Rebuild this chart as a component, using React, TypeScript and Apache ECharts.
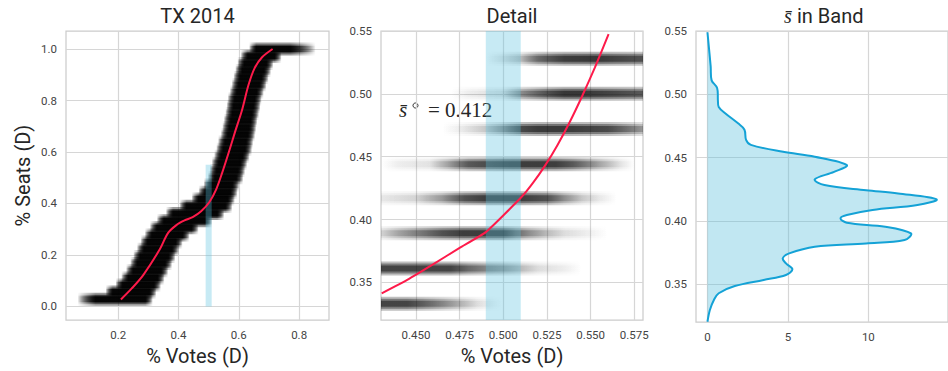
import React, { useEffect, useRef } from "react";
import * as echarts from "echarts";

// ---------- style constants ----------
const SANS = "Roboto, 'Noto Sans', 'DejaVu Sans', sans-serif";
const SERIF = "'Liberation Serif', 'DejaVu Serif', serif";
const INK = "#262626";
const TICK = "#444444";
const GRIDLINE = "#d6d6d6";
const SPINE = "#cccccc";
const RED = "#fe1a4a";
const BAND_FILL = "rgba(91,192,222,0.34)";
const KDE_LINE = "#14a2d6";
const KDE_FILL = "rgba(91,192,222,0.38)";

// ---------- text ----------
const title1 = "TX 2014";
const title2 = "Detail";
const title3Math = "s\u0304";
const title3Text = "in Band";
const xName = "% Votes (D)";
const yName = "% Seats (D)";
const annotationValue = "0.412";

// ---------- panel 1: overview (seat rows k/36 with vote-share extents) ----------
const overviewSeat = [0.028, 0.056, 0.083, 0.111, 0.139, 0.167, 0.194, 0.222, 0.25, 0.278, 0.306, 0.333,
  0.361, 0.389, 0.417, 0.444, 0.472, 0.5, 0.528, 0.556, 0.583, 0.611, 0.639, 0.667, 0.694, 0.722, 0.75,
  0.778, 0.806, 0.833, 0.861, 0.889, 0.917, 0.944, 0.972, 1.0];
const overviewFaintLo = [0.065, 0.158, 0.191, 0.21, 0.226, 0.24, 0.25, 0.262, 0.274, 0.288, 0.305, 0.328,
  0.358, 0.403, 0.443, 0.466, 0.483, 0.497, 0.503, 0.51, 0.518, 0.525, 0.531, 0.54, 0.545, 0.55, 0.555,
  0.559, 0.563, 0.57, 0.576, 0.582, 0.588, 0.595, 0.606, 0.634];
const overviewLo = [0.125, 0.182, 0.215, 0.234, 0.25, 0.264, 0.274, 0.286, 0.298, 0.312, 0.329, 0.352,
  0.382, 0.427, 0.467, 0.49, 0.507, 0.521, 0.527, 0.534, 0.542, 0.549, 0.555, 0.564, 0.569, 0.574, 0.579,
  0.583, 0.587, 0.594, 0.6, 0.606, 0.612, 0.619, 0.63, 0.658];
const overviewHi = [0.29, 0.303, 0.318, 0.33, 0.342, 0.355, 0.366, 0.378, 0.39, 0.413, 0.443, 0.488,
  0.528, 0.555, 0.563, 0.572, 0.578, 0.591, 0.597, 0.604, 0.612, 0.62, 0.624, 0.63, 0.634, 0.638, 0.643,
  0.648, 0.652, 0.659, 0.668, 0.675, 0.683, 0.691, 0.718, 0.77];
const overviewFaintHi = [0.315, 0.327, 0.342, 0.354, 0.366, 0.379, 0.39, 0.402, 0.414, 0.437, 0.467, 0.512,
  0.552, 0.579, 0.587, 0.596, 0.602, 0.615, 0.621, 0.628, 0.636, 0.644, 0.648, 0.654, 0.658, 0.662, 0.667,
  0.672, 0.676, 0.683, 0.692, 0.699, 0.707, 0.715, 0.742, 0.855];

const overviewCurveVotes = [0.209, 0.245, 0.283, 0.338, 0.365, 0.393, 0.42, 0.447, 0.475, 0.502, 0.525, 0.545, 0.567, 0.588, 0.61, 0.632, 0.652, 0.677, 0.712];
const overviewCurveSeats = [0.027, 0.07, 0.122, 0.222, 0.285, 0.316, 0.334, 0.347, 0.37, 0.405, 0.455, 0.52, 0.6, 0.68, 0.76, 0.86, 0.925, 0.968, 1.0];

// ---------- panel 2: detail rows ----------
const detailSeat = [0.333, 0.361, 0.389, 0.417, 0.444, 0.472, 0.5, 0.528];
const detailProfiles: number[][][] = [
  [[0.4, 0.9], [0.445, 0.9], [0.455, 0.7], [0.465, 0.5], [0.475, 0.3], [0.485, 0.12], [0.495, 0.03], [0.5, 0]],
  [[0.4, 0.9], [0.47, 0.9], [0.48, 0.65], [0.49, 0.5], [0.5, 0.4], [0.51, 0.25], [0.52, 0.12], [0.535, 0.06], [0.545, 0]],
  [[0.4, 0.1], [0.43, 0.15], [0.44, 0.35], [0.455, 0.6], [0.465, 0.8], [0.477, 0.95], [0.5, 0.95], [0.507, 0.65], [0.515, 0.45], [0.525, 0.25], [0.535, 0.12], [0.55, 0.05], [0.56, 0]],
  [[0.42, 0], [0.43, 0.08], [0.45, 0.15], [0.465, 0.4], [0.478, 0.8], [0.49, 0.95], [0.51, 0.95], [0.525, 0.8], [0.535, 0.45], [0.545, 0.2], [0.555, 0.08], [0.565, 0]],
  [[0.43, 0], [0.44, 0.06], [0.458, 0.1], [0.468, 0.35], [0.48, 0.75], [0.505, 0.95], [0.53, 0.95], [0.54, 0.75], [0.555, 0.35], [0.567, 0.1], [0.575, 0]],
  [[0.465, 0], [0.475, 0.06], [0.49, 0.2], [0.5, 0.45], [0.51, 0.85], [0.52, 0.97], [0.535, 0.97], [0.56, 0.85], [0.58, 0.4]],
  [[0.47, 0], [0.48, 0.06], [0.5, 0.12], [0.51, 0.45], [0.525, 0.8], [0.535, 1.0], [0.545, 1.0], [0.56, 0.9], [0.58, 0.75]],
  [[0.49, 0], [0.5, 0.1], [0.51, 0.25], [0.52, 0.65], [0.535, 0.95], [0.553, 1.0], [0.565, 0.9], [0.58, 0.8]],
];
const detailCurveVotes = [0.4304, 0.445, 0.46, 0.475, 0.49, 0.5103, 0.517, 0.524, 0.531, 0.538, 0.545, 0.5525, 0.5603];
const detailCurveSeats = [0.3413, 0.352, 0.3645, 0.3775, 0.39, 0.4177, 0.4291, 0.4431, 0.4592, 0.4774, 0.4977, 0.521, 0.5475];

// ---------- band ----------
const bandVotes = [0.49, 0.51];
const bandSeats = [0, 0.55];

// ---------- panel 3: density of s-bar in band ----------
const kdeDensity = [0, 0.2, 0.26, 0.6, 0.65, 0.7, 1.1, 1.9, 2.3, 2.4, 2.7, 4.7, 6.67, 8.66, 7.87, 6.67, 7.27, 9.86, 11.85,
  14.24, 13.05, 10.26, 8.66, 8.27, 8.66, 11.05, 12.65, 12.25, 9.86, 6.67, 5.08, 4.68, 4.88, 5.28, 4.88, 3.49, 1.7, 0.7, 0.4, 0.15, 0];
const kdeSeat = [0.549, 0.522, 0.511, 0.505, 0.495, 0.49, 0.485, 0.477, 0.472, 0.464, 0.46, 0.4545, 0.4506, 0.444, 0.4387,
  0.4327, 0.4282, 0.4242, 0.4216, 0.4169, 0.4124, 0.4085, 0.4045, 0.4019, 0.3984, 0.3953, 0.39, 0.3848, 0.3821, 0.3795,
  0.3742, 0.3703, 0.3663, 0.3616, 0.3571, 0.3532, 0.3484, 0.3427, 0.3374, 0.3295, 0.3202];

// ---------- ticks / ranges ----------
const overviewXTicks = [0.2, 0.4, 0.6, 0.8];
const overviewYTicks = [0, 0.2, 0.4, 0.6, 0.8, 1.0];
const detailXTicks = [0.45, 0.475, 0.5, 0.525, 0.55, 0.575];
const detailYTicks = [0.35, 0.4, 0.45, 0.5, 0.55];
const kdeXTicks = [0, 5, 10];
const overviewXRange = [0.027, 0.899];
const overviewYRange = [-0.053, 1.07];
const detailXRange = [0.43, 0.58];
const seatRange = [0.32, 0.55];
const kdeXRange = [-0.712, 14.95];

function gradient(stops: number[][], scale: number) {
  const v0 = stops[0][0];
  const v1 = stops[stops.length - 1][0];
  return new echarts.graphic.LinearGradient(
    0, 0, 1, 0,
    stops.map(([v, d]) => ({ offset: (v - v0) / (v1 - v0), color: `rgba(0,0,0,${(d * scale).toFixed(3)})` }))
  );
}

function axis(ticks: number[], range: number[], digits: number, extra: any = {}) {
  return {
    type: "value",
    min: range[0],
    max: range[1],
    axisLine: { show: false },
    axisTick: { show: false, customValues: ticks },
    axisLabel: {
      customValues: ticks,
      formatter: (v: number) => v.toFixed(digits),
      color: TICK,
      fontFamily: SANS,
      fontSize: 11.5,
      margin: 9,
    },
    splitLine: { show: true, lineStyle: { color: GRIDLINE, width: 1.2 } },
    ...extra,
  };
}

const nameStyle = { fontFamily: SANS, fontSize: 20, color: INK };

export default function App() {
  const ref = useRef<HTMLDivElement>(null);
  useEffect(() => {
    if (!ref.current) return;
    const chart = echarts.init(ref.current, undefined, { renderer: "svg" });

    const bandRender = (params: any, api: any) => {
      const a = api.coord([bandVotes[0], bandSeats[1]]);
      const b = api.coord([bandVotes[1], bandSeats[0]]);
      return {
        type: "rect",
        shape: { x: a[0], y: a[1], width: b[0] - a[0], height: b[1] - a[1] },
        style: { fill: BAND_FILL },
      };
    };

    const option: any = {
      animation: false,
      backgroundColor: "#ffffff",
      grid: [
        { left: 66, top: 31, width: 263, height: 291, show: true, borderColor: SPINE, borderWidth: 1.25 },
        { left: 381, top: 31, width: 262, height: 291, show: true, borderColor: SPINE, borderWidth: 1.25 },
        { left: 696, top: 31, width: 264, height: 291, show: true, borderColor: SPINE, borderWidth: 1.25 },
      ],
      xAxis: [
        axis(overviewXTicks, overviewXRange, 1, { gridIndex: 0, name: xName, nameLocation: "middle", nameGap: 23, nameTextStyle: nameStyle }),
        axis(detailXTicks, detailXRange, 3, { gridIndex: 1, name: xName, nameLocation: "middle", nameGap: 23, nameTextStyle: nameStyle }),
        axis(kdeXTicks, kdeXRange, 0, { gridIndex: 2 }),
      ],
      yAxis: [
        axis(overviewYTicks, overviewYRange, 1, { gridIndex: 0, name: yName, nameLocation: "middle", nameGap: 33, nameTextStyle: nameStyle }),
        axis(detailYTicks, seatRange, 2, { gridIndex: 1 }),
        axis(detailYTicks, seatRange, 2, { gridIndex: 2 }),
      ],
      graphic: [
        { type: "text", x: 197.5, y: 16, style: { text: title1, font: `20px ${SANS}`, fill: INK, align: "center", verticalAlign: "middle" } },
        { type: "text", x: 512, y: 16, style: { text: title2, font: `20px ${SANS}`, fill: INK, align: "center", verticalAlign: "middle" } },
        { type: "text", x: 784, y: 16, style: { text: title3Math, font: `italic 20px ${SERIF}`, fill: INK, align: "left", verticalAlign: "middle" } },
        { type: "text", x: 797, y: 16, style: { text: title3Text, font: `20px ${SANS}`, fill: INK, align: "left", verticalAlign: "middle" } },
        { type: "text", x: 399, y: 110, style: { text: "s\u0304", font: `italic 21px ${SERIF}`, fill: INK, align: "left", verticalAlign: "middle" } },
        { type: "circle", shape: { cx: 415.5, cy: 105.5, r: 2.5 }, style: { fill: "none", stroke: INK, lineWidth: 1 } },
        { type: "text", x: 428, y: 110, style: { text: "= " + annotationValue, font: `21px ${SERIF}`, fill: INK, align: "left", verticalAlign: "middle" } },
      ],
      series: [
        {
          type: "custom",
          xAxisIndex: 0,
          yAxisIndex: 0,
          clip: true,
          data: overviewSeat.map((s, i) => [overviewLo[i], s, i]),
          renderItem: (params: any, api: any) => {
            const i = api.value(2) as number;
            const s = overviewSeat[i];
            const stops = [[overviewFaintLo[i], 0], [overviewLo[i], 1], [overviewHi[i], 1], [overviewFaintHi[i], 0]];
            const p0 = api.coord([overviewFaintLo[i], s]);
            const p1 = api.coord([overviewFaintHi[i], s]);
            const mk = (h: number, k: number) => ({
              type: "rect",
              shape: { x: p0[0], y: p0[1] - h / 2, width: p1[0] - p0[0], height: h },
              style: { fill: gradient(stops, k) },
            });
            return { type: "group", children: [mk(13, 0.4), mk(9, 0.6), mk(6, 0.9)] };
          },
        },
        { type: "custom", xAxisIndex: 0, yAxisIndex: 0, clip: true, data: [[0.5, 0.3]], renderItem: bandRender },
        {
          type: "line",
          xAxisIndex: 0,
          yAxisIndex: 0,
          showSymbol: false,
          smooth: 0.3,
          data: overviewCurveVotes.map((v, i) => [v, overviewCurveSeats[i]]),
          lineStyle: { color: RED, width: 2 },
        },
        {
          type: "custom",
          xAxisIndex: 1,
          yAxisIndex: 1,
          clip: true,
          data: detailSeat.map((s, i) => [detailProfiles[i][0][0], s, i]),
          renderItem: (params: any, api: any) => {
            const i = api.value(2) as number;
            const s = detailSeat[i];
            const prof = detailProfiles[i];
            const p0 = api.coord([prof[0][0], s]);
            const p1 = api.coord([prof[prof.length - 1][0], s]);
            const mk = (h: number, k: number) => ({
              type: "rect",
              shape: { x: p0[0], y: p0[1] - h / 2, width: p1[0] - p0[0], height: h },
              style: { fill: gradient(prof, k) },
            });
            return { type: "group", children: [mk(14, 0.28), mk(10, 0.4), mk(6, 0.5)] };
          },
        },
        { type: "custom", xAxisIndex: 1, yAxisIndex: 1, clip: true, data: [[0.5, 0.4]], renderItem: bandRender },
        {
          type: "line",
          xAxisIndex: 1,
          yAxisIndex: 1,
          showSymbol: false,
          smooth: 0.15,
          data: detailCurveVotes.map((v, i) => [v, detailCurveSeats[i]]),
          lineStyle: { color: RED, width: 2 },
        },
        {
          type: "custom",
          xAxisIndex: 2,
          yAxisIndex: 2,
          clip: true,
          data: [[5, 0.4]],
          renderItem: (params: any, api: any) => {
            const pts = kdeDensity.map((d, i) => api.coord([d, kdeSeat[i]]));
            const top = api.coord([0, seatRange[1] + 0.05]);
            const bottom = api.coord([0, seatRange[0] - 0.05]);
            return {
              type: "group",
              children: [
                { type: "polygon", shape: { points: [top, ...pts, bottom], smooth: 0.35 }, style: { fill: KDE_FILL } },
                { type: "polyline", shape: { points: pts, smooth: 0.35 }, style: { stroke: KDE_LINE, lineWidth: 2, fill: "none" } },
              ],
            };
          },
        },
      ],
    };
    chart.setOption(option);
    return () => chart.dispose();
  }, []);
  return <div ref={ref} style={{ position: "absolute", left: 0, top: 0, width: 948, height: 371 }} />;
}
